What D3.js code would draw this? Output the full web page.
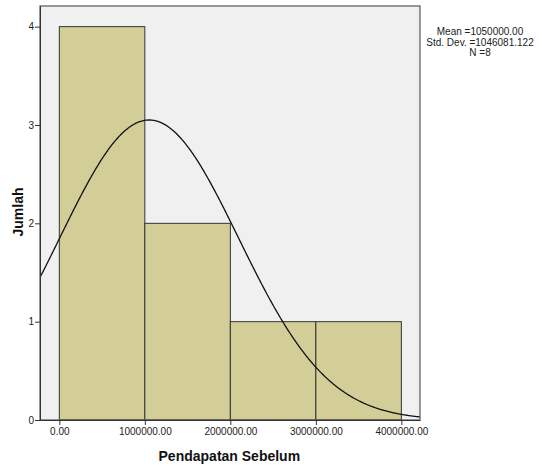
<!DOCTYPE html>
<html>
<head>
<meta charset="utf-8">
<script src="https://cdn.jsdelivr.net/npm/d3@7"></script>
<style>
  body { margin: 0; background: #fff; }
  text { font-family: "Liberation Sans", Arial, sans-serif; }
</style>
</head>
<body>
<div id="chart"></div>
<script>
// bins (lower, upper) and counts
const binStarts = [0, 1000000, 2000000, 3000000];
const binWidth = 1000000;
const counts = [4, 2, 1, 1];
const xTicks = [0, 1000000, 2000000, 3000000, 4000000];
const yTicks = [0, 1, 2, 3, 4];
const mean = 1050000;
const sd = 1046081.122;
const n = 8;
const statLines = ['Mean =1050000.00', 'Std. Dev. =1046081.122', 'N =8'];

const W = 542, H = 466;
const margin = { top: 6, right: 122, bottom: 46, left: 40 };
const width = W - margin.left - margin.right;
const height = H - margin.top - margin.bottom;

const svg = d3.select('#chart').append('svg')
  .attr('width', W).attr('height', H);

const g = svg.append('g')
  .attr('transform', `translate(${margin.left},${margin.top})`);

const x = d3.scaleLinear().domain([-226000, 4218000]).range([0, width]);
const y = d3.scaleLinear().domain([0, 4.21]).range([height, 0]);

// plot background
g.append('rect')
  .attr('width', width).attr('height', height)
  .attr('fill', '#f0f0f0');

g.append('clipPath').attr('id', 'clip')
  .append('rect').attr('width', width).attr('height', height);

// bars
g.selectAll('.bar')
  .data(binStarts.map((s, i) => ({ s, c: counts[i] })))
  .join('rect')
  .attr('class', 'bar')
  .attr('x', d => x(d.s))
  .attr('y', d => y(d.c))
  .attr('width', d => x(d.s + binWidth) - x(d.s))
  .attr('height', d => y(0) - y(d.c))
  .attr('fill', '#d3ce98')
  .attr('stroke', '#333')
  .attr('stroke-width', 1);

// normal curve
const xs = d3.range(0, 401).map(i => x.domain()[0] + (x.domain()[1] - x.domain()[0]) * i / 400);
const pdf = v => n * binWidth / (sd * Math.sqrt(2 * Math.PI)) * Math.exp(-0.5 * ((v - mean) / sd) ** 2);
g.append('path')
  .datum(xs)
  .attr('clip-path', 'url(#clip)')
  .attr('fill', 'none')
  .attr('stroke', '#111')
  .attr('stroke-width', 1.3)
  .attr('d', d3.line().x(d => x(d)).y(d => y(pdf(d))));

// frame
g.append('rect')
  .attr('width', width).attr('height', height)
  .attr('fill', 'none')
  .attr('stroke', '#555')
  .attr('stroke-width', 1.2);

// axes
const xAxis = g.append('g')
  .attr('transform', `translate(0,${height})`)
  .call(d3.axisBottom(x).tickValues(xTicks).tickSize(5).tickSizeOuter(0)
    .tickFormat(d => d3.format('.2f')(d)));
const yAxis = g.append('g')
  .call(d3.axisLeft(y).tickValues(yTicks).tickSize(5).tickSizeOuter(0).tickFormat(d3.format('d')));

[xAxis, yAxis].forEach(a => {
  a.select('.domain').attr('stroke', '#333');
  a.selectAll('.tick line').attr('stroke', '#333');
  a.selectAll('.tick text')
    .attr('fill', '#222')
    .style('font-family', '"Liberation Sans", Arial, sans-serif')
    .style('font-size', '10px');
});
yAxis.selectAll('.tick text').attr('x', -6);

// axis titles
svg.append('text')
  .attr('x', margin.left + x(2000000) - 1)
  .attr('y', 461)
  .attr('text-anchor', 'middle')
  .style('font-size', '14px')
  .style('font-weight', 'bold')
  .attr('fill', '#111')
  .text('Pendapatan Sebelum');

svg.append('text')
  .attr('transform', `translate(23,212) rotate(-90)`)
  .attr('text-anchor', 'middle')
  .style('font-size', '14px')
  .style('font-weight', 'bold')
  .attr('fill', '#111')
  .text('Jumlah');

// stats
svg.append('g').selectAll('text')
  .data(statLines)
  .join('text')
  .attr('x', 480)
  .attr('y', (d, i) => 35 + i * 10.5)
  .attr('text-anchor', 'middle')
  .style('font-size', '10px')
  .attr('fill', '#222')
  .text(d => d);
</script>
</body>
</html>
